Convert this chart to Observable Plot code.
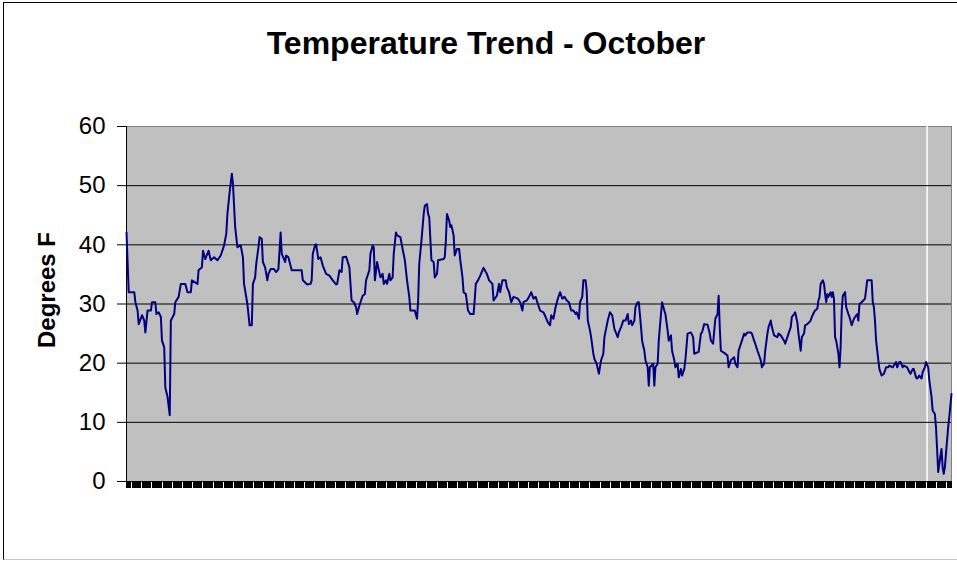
<!DOCTYPE html>
<html>
<head>
<meta charset="utf-8">
<script src="https://cdn.jsdelivr.net/npm/d3@7"></script>
<script src="https://cdn.jsdelivr.net/npm/@observablehq/plot@0.6"></script>
<style>
  body { margin: 0; background: #fff; }
  #wrap { position: relative; width: 957px; height: 561px; overflow: hidden; font-family: "Liberation Sans", Arial, sans-serif; }
  #border { position: absolute; left: 3px; top: 2px; width: 970px; height: 558px; box-sizing: border-box;
            border-left: 1px solid #000; border-top: 1px solid #000; border-bottom: 1px solid #c8c8c8; }
  #chart { position: absolute; left: 0; top: 0; }
  #overlay { position: absolute; left: 0; top: 0; pointer-events: none; font-family: "Liberation Sans", Arial, sans-serif; }
</style>
</head>
<body>
<div id="wrap">
  <div id="border"></div>
  <div id="chart"></div>
  <svg id="overlay" width="957" height="561">
    <text x="486" y="53.5" text-anchor="middle" font-size="32" font-weight="bold" fill="#000">Temperature Trend - October</text>
    <text transform="translate(55,290) rotate(-90)" text-anchor="middle" font-size="24" font-weight="bold" fill="#000">Degrees F</text>
  </svg>
</div>
<script>
// Hour of October (0 = Oct 1, 00:00)
const hours = [
  0,2,7,8,10,11,14,16,17,19,22,23,26,27,29,31,32,34,35,37,39,40,43,44,47,49,53,55,58,59,
  64,65,68,69,71,74,76,79,82,85,88,90,91,93,95,96,98,100,103,105,106,109,111,113,114,116,117,119,120,122,
  123,125,127,128,130,133,135,137,139,140,143,144,146,149,158,159,163,166,167,168,170,171,173,175,177,180,183,186,189,190,
  192,194,195,198,201,202,203,205,207,208,210,211,213,215,216,219,220,222,223,224,226,227,229,231,232,234,235,237,238,240,
  241,243,244,247,249,251,253,255,256,260,262,263,264,266,268,269,271,272,273,275,277,278,280,281,286,287,288,289,291,292,
  293,295,296,298,300,301,303,304,306,307,308,310,313,314,315,317,319,321,322,324,325,327,330,331,334,336,337,339,342,343,
  345,347,349,353,355,357,358,361,363,365,367,369,371,373,376,378,380,382,383,385,387,389,391,393,395,397,399,401,403,405,
  406,408,409,411,412,414,415,416,418,419,421,422,424,426,428,430,431,434,436,438,440,443,444,446,448,450,452,453,455,456,
  458,459,461,462,464,465,467,468,470,471,472,475,476,477,479,480,482,483,485,486,488,489,491,492,494,495,497,498,500,501,
  503,504,506,509,511,512,516,518,519,521,524,526,527,529,531,533,534,535,536,540,542,543,545,548,549,551,552,555,557,558,
  560,563,564,566,567,569,570,572,573,575,576,578,579,581,582,584,587,588,590,591,593,594,596,597,599,600,602,603,605,606,
  608,609,611,612,614,617,618,620,621,623,624,625,626,628,629,630,631,632,633,635,636,637,638,639,640,642,643,644,645,646,
  648,649,651,652,654,656,657,659,660,661,663,666,668,672,673,674,675,676,678,679,681,683,685,687,688,691,692,694,695,697,
  698,700,701,704,706,707,709,710,712,713,715,717,718,720,721,723,724,726,727,729,730,731,732,733,735,736,737,738,739,741,
  742,744
];
// Temperature, degrees F
const temps = [
  42.1,32.0,32.0,30.3,28.9,26.6,28.1,27.2,25.2,28.9,28.9,30.3,30.3,28.3,28.6,27.8,23.8,22.7,15.9,14.3,11.2,27.2,28.3,30.3,31.2,33.4,33.4,32.0,32.0,34.0,
  33.4,35.7,36.2,39.0,37.6,39.0,37.4,37.9,37.4,38.2,39.9,41.9,45.2,48.9,52.0,50.3,43.0,39.6,39.9,37.9,33.4,30.0,26.4,26.4,33.4,34.5,36.8,39.6,41.3,41.0,
  37.1,36.2,34.0,35.1,35.9,35.9,35.4,35.9,42.1,38.5,37.1,38.2,37.9,35.7,35.7,34.0,33.3,33.4,34.0,38.5,39.9,40.1,37.6,37.9,36.5,35.1,34.8,34.0,33.3,33.4,
  35.7,35.4,37.9,38.0,36.2,33.4,30.6,30.3,29.5,28.3,29.7,30.3,31.4,31.7,34.0,35.7,38.5,39.9,39.6,34.0,37.1,36.2,34.5,35.1,33.4,34.0,33.4,35.1,34.0,34.5,
  38.5,42.1,41.6,41.3,39.3,37.4,34.0,31.2,28.9,28.9,27.5,30.6,36.8,40.7,45.2,46.6,46.9,45.2,44.7,37.4,37.1,34.5,35.1,37.4,37.6,37.9,40.7,45.2,44.1,43.0,
  43.3,41.6,38.2,39.3,39.3,37.4,34.5,32.0,31.7,30.3,28.9,28.3,28.3,30.6,33.4,34.0,34.8,35.7,36.1,35.4,35.1,34.0,33.4,30.6,31.4,33.4,32.0,34.0,34.0,32.8,
  32.0,30.3,31.2,30.9,30.3,28.9,30.3,30.6,31.2,32.0,30.9,31.2,30.0,28.9,28.6,27.8,26.9,26.4,28.1,27.5,29.5,30.9,32.0,30.9,31.2,30.6,30.3,28.9,28.9,28.3,
  28.6,27.5,30.3,31.2,34.0,34.0,32.3,27.2,25.5,24.4,21.6,20.7,19.9,18.2,20.5,21.6,24.4,27.2,28.6,28.1,25.8,24.4,25.2,26.1,27.2,27.2,28.3,26.6,27.2,26.4,
  27.2,29.5,30.3,30.3,26.1,23.8,22.1,20.5,19.3,16.2,19.3,19.9,16.2,19.3,19.9,23.8,28.3,30.3,28.9,28.3,25.5,23.8,24.7,22.1,20.5,19.3,19.9,17.6,19.0,17.9,
  19.0,20.5,25.0,25.2,24.4,21.6,21.9,25.0,25.2,26.6,26.5,25.0,23.8,23.3,27.5,28.3,31.4,26.1,22.1,21.6,21.3,19.3,20.5,21.0,19.9,19.3,22.1,23.8,25.0,24.7,
  25.2,25.2,25.0,23.8,23.3,22.1,21.6,20.5,19.3,19.9,22.1,25.0,26.1,27.2,26.1,24.7,24.4,25.0,24.7,24.4,23.8,23.3,24.4,25.0,26.1,27.8,28.3,28.6,26.9,25.0,
  22.1,24.4,25.0,26.4,26.6,27.2,27.8,28.6,28.9,29.2,30.6,31.2,33.4,34.0,33.4,31.7,30.3,31.7,31.2,32.0,31.2,32.0,30.9,24.4,23.8,21.6,19.3,22.7,28.9,31.4,
  32.0,29.5,28.3,27.8,26.4,27.5,27.8,28.3,27.2,30.0,30.3,30.9,34.0,34.0,30.3,29.5,27.2,23.8,20.5,19.0,17.9,18.2,19.3,19.3,19.6,19.3,19.6,20.2,19.3,20.2,
  20.2,19.3,19.6,19.3,18.5,18.2,19.0,19.0,17.6,17.4,17.9,17.4,18.5,19.3,20.2,19.3,17.1,14.3,12.0,11.4,9.2,5.5,1.6,3.0,5.5,2.4,1.3,2.4,4.7,9.2,
  10.9,14.8
];
const yTicks = [0, 10, 20, 30, 40, 50, 60];
const gridLines = [10, 20, 30, 40, 50];
const hourTicks = d3.range(0, 745);   // one tick per hourly category
const gapHour = 722;                  // pale vertical break in the plot area

const data = hours.map((h, i) => ({hour: h, temp: temps[i]}));

const chart = Plot.plot({
  width: 957,
  height: 561,
  marginLeft: 126,
  marginRight: 6,
  marginTop: 126,
  marginBottom: 80,
  x: {domain: [0, 744], axis: null},
  y: {domain: [0, 60], axis: null},
  style: {fontFamily: "'Liberation Sans', Arial, sans-serif", fontSize: "24px", color: "#000", background: "transparent", overflow: "visible"},
  marks: [
    Plot.frame({fill: "#c0c0c0", stroke: "#808080"}),
    Plot.ruleX([gapHour], {stroke: "#ffffff", strokeWidth: 1.5}),
    Plot.ruleY(gridLines, {stroke: "#000"}),
    Plot.axisY(yTicks, {tickSize: 9, tickPadding: 12, label: null, stroke: "#000", fill: "#000"}),
    Plot.axisX(hourTicks, {tickSize: 7, tickFormat: () => "", label: null, stroke: "#000", strokeOpacity: 1, shapeRendering: "crispEdges"}),
    Plot.ruleX([0], {stroke: "#000"}),
    Plot.ruleY([0], {stroke: "#000"}),
    Plot.line(data, {x: "hour", y: "temp", stroke: "#000080", strokeWidth: 2})
  ]
});
document.getElementById("chart").appendChild(chart);
</script>
</body>
</html>
